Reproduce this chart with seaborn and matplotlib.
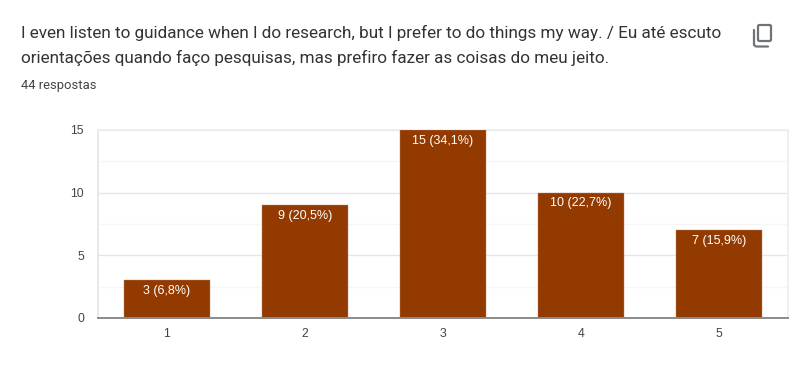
"""Google Forms style bar chart of the guidance question."""

import matplotlib

matplotlib.use("Agg")

import matplotlib.pyplot as plt
import pandas as pd
import seaborn as sns
from matplotlib.patches import FancyBboxPatch
from matplotlib.lines import Line2D

answers = ["1", "2", "3", "4", "5"]
counts = [3, 9, 15, 10, 7]
bar_labels = ["3 (6,8%)", "9 (20,5%)", "15 (34,1%)", "10 (22,7%)", "7 (15,9%)"]
major_ticks = [0, 5, 10, 15]
minor_ticks = [2.5, 7.5, 12.5]

title_lines = [
    "I even listen to guidance when I do research, but I prefer to do things my way. / Eu até escuto",
    "orientações quando faço pesquisas, mas prefiro fazer as coisas do meu jeito.",
]
subtitle = "44 respostas"

W, H = 800, 390

sns.set_theme(style="white")
plt.rcParams["font.family"] = ["Liberation Sans", "DejaVu Sans"]

fig = plt.figure(figsize=(W / 100, H / 100), dpi=100, facecolor="white")
ax = fig.add_axes([98 / W, 1 - 318 / H, 690 / W, 188 / H])

df = pd.DataFrame({"answer": answers, "count": counts})
sns.barplot(
    data=df,
    x="answer",
    y="count",
    color="#933a00",
    saturation=1,
    width=0.62,
    edgecolor="#c08a66",
    linewidth=0.3,
    ax=ax,
    zorder=3,
)

ax.set_xlim(-0.5, 4.5)
ax.set_ylim(0, 15)
ax.set_xlabel("")
ax.set_ylabel("")
ax.set_yticks(major_ticks)
ax.set_yticks(minor_ticks, minor=True)
ax.grid(axis="y", which="major", color="#e6e6e6", linewidth=1, zorder=0)
ax.grid(axis="y", which="minor", color="#f6f6f6", linewidth=1, zorder=0)
ax.tick_params(axis="both", which="both", length=0)
ax.tick_params(axis="x", labelsize=8.8, labelcolor="#444444", pad=7)
ax.tick_params(axis="y", labelsize=8.8, labelcolor="#444444", pad=10)

for side in ["top", "right"]:
    ax.spines[side].set_color("#eeeeee")
ax.spines["left"].set_color("#e6e6e6")
ax.spines["bottom"].set_color("#8a8a8a")
ax.spines["bottom"].set_linewidth(1.4)
ax.spines["bottom"].set_zorder(4)

# 棒の中のラベル
for container in ax.containers:
    ax.bar_label(
        container,
        labels=bar_labels,
        label_type="edge",
        padding=-12,
        color="white",
        fontsize=9,
        zorder=5,
    )

title_font = ["Roboto", "DejaVu Sans"]
fig.text(21 / W, 1 - 33 / H, title_lines[0], fontsize=12.3, color="#333333", va="center", family=title_font)
fig.text(21 / W, 1 - 58 / H, title_lines[1], fontsize=12.3, color="#333333", va="center", family=title_font)
fig.text(21 / W, 1 - 86 / H, subtitle, fontsize=9.4, color="#444444", va="center", family=title_font)

# コピーアイコン
icon = fig.add_axes([0, 0, 1, 1], facecolor="none")
icon.set_xlim(0, W)
icon.set_ylim(H, 0)
icon.axis("off")
icon.add_patch(
    FancyBboxPatch(
        (758, 25), 13, 16, boxstyle="round,pad=0,rounding_size=1.5",
        fill=False, edgecolor="#6f7378", linewidth=1.6,
    )
)
icon.add_line(
    Line2D([754, 754, 756, 768], [30, 45, 46.5, 46.5], color="#6f7378", linewidth=1.6)
)

fig.savefig("out.png", dpi=100)
